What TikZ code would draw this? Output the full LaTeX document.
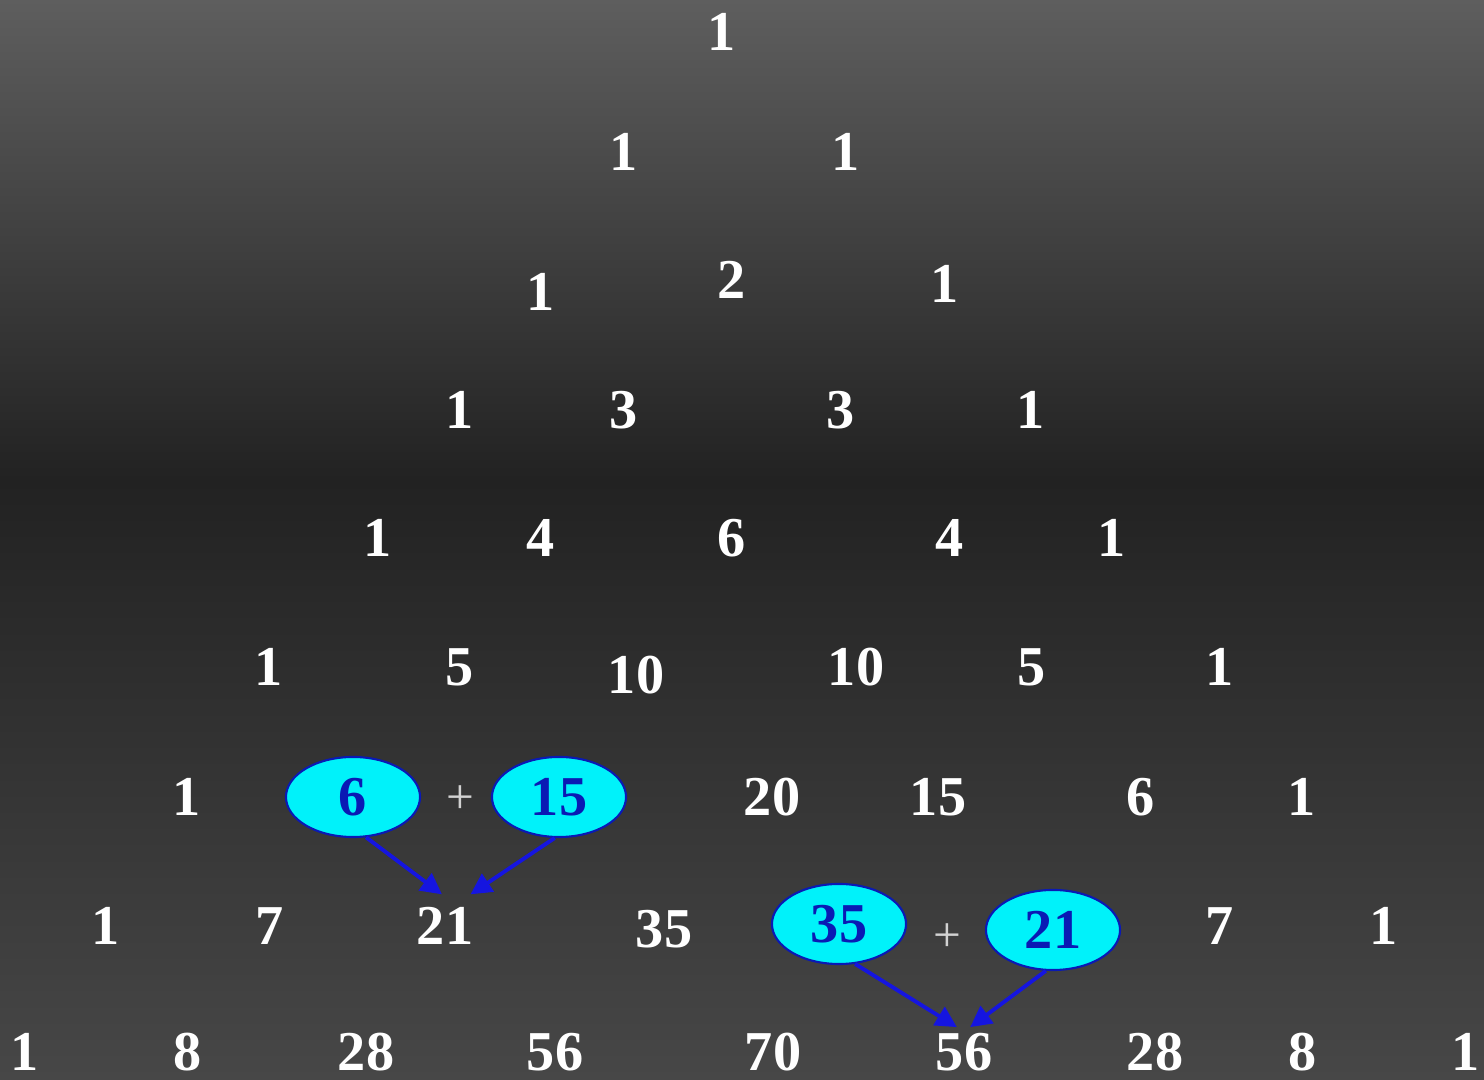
\documentclass[tikz,border=0pt]{standalone}
\usepackage{fontspec}
\setmainfont{Liberation Serif}
\usetikzlibrary{arrows.meta,positioning,shapes.geometric}
\definecolor{bgtop}{HTML}{5E5E5E}
\definecolor{bgmid}{HTML}{222222}
\definecolor{bgbot}{HTML}{474747}
\definecolor{hlblue}{HTML}{0A1AB4}
\definecolor{hlfill}{HTML}{00F2FA}
\definecolor{arrblue}{HTML}{1515E0}
\tikzset{
  num/.style={text=white, inner sep=1.5pt,
    font=\fontsize{16}{16}\selectfont\bfseries},
  hilite/.style={ellipse, draw=hlblue, line width=0.6pt, fill=hlfill,
    text=hlblue, minimum width=1.34cm, minimum height=0.80cm, inner sep=0pt,
    font=\fontsize{16}{16}\selectfont\bfseries},
  plussign/.style={text=gray!35, font=\fontsize{14}{14}\selectfont},
  sumarrw/.style={-{Triangle[length=6pt,width=6pt]}, draw=arrblue, line width=1.1pt},
}
\begin{document}
\begin{tikzpicture}[x=0.01cm, y=-0.01cm]
  \useasboundingbox (0,0) rectangle (1484,1080);
  \shade[top color=bgtop, bottom color=bgmid] (0,0) rectangle (1484,480);
  \shade[top color=bgmid, bottom color=bgbot] (0,480) rectangle (1484,1080);

  % rows 0--5
  \node[num] (c00) at (722,32) {1};

  \node[num] (c10) at (624,152) {1};
  \node[num] (c11) at (846,152) {1};

  \node[num] (c20) at (541,292) {1};
  \node[num] (c21) at (732,280) {2};
  \node[num] (c22) at (945,284) {1};

  \node[num] (c30) at (460,410) {1};
  \node[num] (c31) at (624,410) {3};
  \node[num] (c32) at (841,410) {3};
  \node[num] (c33) at (1031,410) {1};

  \node[num] (c40) at (378,538) {1};
  \node[num] (c41) at (541,538) {4};
  \node[num] (c42) at (732,538) {6};
  \node[num] (c43) at (950,538) {4};
  \node[num] (c44) at (1112,538) {1};

  \node[num] (c50) at (269,667) {1};
  \node[num] (c51) at (460,667) {5};
  \node[num] (c52) at (636,675) {10};
  \node[num] (c53) at (856,667) {10};
  \node[num] (c54) at (1032,667) {5};
  \node[num] (c55) at (1220,667) {1};

  % row 6, first sum
  \node[num] (c60) at (187,797) {1};
  \node[hilite] (six) at (353,797) {6};
  \node[plussign] (plusA) at (460,800) {+};
  \node[hilite] (fifteen) at (559,797) {15};
  \node[num] (c63) at (772,797) {20};
  \node[num] (c64) at (938,797) {15};
  \node[num] (c65) at (1141,797) {6};
  \node[num] (c66) at (1302,797) {1};

  % row 7, second sum
  \node[num] (c70) at (106,926) {1};
  \node[num] (c71) at (270,926) {7};
  \node[num] (c72) at (445,926) {21};
  \node[num] (c73) at (664,929) {35};
  \node[hilite] (thirtyfive) at (839,924) {35};
  \node[plussign] (plusB) at (947,938) {+};
  \node[hilite] (twentyone) at (1053,930) {21};
  \node[num] (c76) at (1220,926) {7};
  \node[num] (c77) at (1384,926) {1};

  % row 8
  \node[num] (c80) at (25,1052) {1};
  \node[num] (c81) at (188,1052) {8};
  \node[num] (c82) at (366,1052) {28};
  \node[num] (c83) at (555,1052) {56};
  \node[num] (c84) at (773,1052) {70};
  \node[num] (c85) at (964,1052) {56};
  \node[num] (c86) at (1155,1052) {28};
  \node[num] (c87) at (1303,1052) {8};
  \node[num] (c88) at (1466,1052) {1};

  \draw[sumarrw] (six.-72) -- ([yshift=2pt]c72.97);
  \draw[sumarrw] (fifteen.-96) -- ([yshift=2pt]c72.44);
  \draw[sumarrw] (thirtyfive.-68) -- (c85.106);
  \draw[sumarrw] (twentyone.-100) -- (c85.76);
\end{tikzpicture}
\end{document}
